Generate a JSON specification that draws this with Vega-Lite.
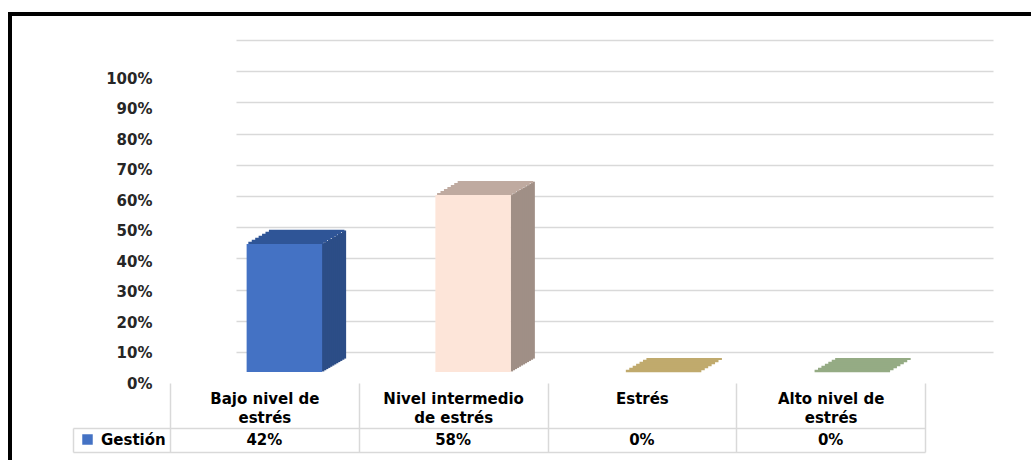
{
  "$schema": "https://vega.github.io/schema/vega-lite/v6.json",
  "width": 1021,
  "height": 446,
  "autosize": {"type": "none"},
  "padding": {"left": 10, "top": 14, "right": 0, "bottom": 0},
  "background": "#ffffff",
  "config": {
    "view": {"stroke": "#000000", "strokeWidth": 4, "strokeDash": [1021, 1467, 446, 10]},
    "font": "DejaVu Sans",
    "tick": {"opacity": 1},
    "bar": {"opacity": 1}
  },
  "data": {
    "values": [
      {"categoria": "Bajo nivel de estrés", "valor": 0.42, "serie": "Gestión"},
      {"categoria": "Nivel intermedio de estrés", "valor": 0.58, "serie": "Gestión"},
      {"categoria": "Estrés", "valor": 0, "serie": "Gestión"},
      {"categoria": "Alto nivel de estrés", "valor": 0, "serie": "Gestión"}
    ]
  },
  "layer": [
    {
      "mark": {"type": "point", "opacity": 0},
      "encoding": {
        "x": {"field": "categoria", "type": "nominal", "sort": null, "scale": {"range": [226, 983], "paddingInner": 0, "paddingOuter": 0}, "axis": null},
        "y": {"field": "valor", "type": "quantitative", "scale": {"domain": [0, 1], "range": [338, 26], "nice": false, "zero": false},
          "axis": {"orient": "left", "values": [0, 0.1, 0.2, 0.3, 0.4, 0.5, 0.6, 0.7, 0.8, 0.9, 1], "labels": false, "ticks": false, "domain": false, "grid": true, "gridColor": "#d9d9d9", "gridWidth": 1.5, "title": null}}
      }
    },
    {
      "mark": {"type": "point", "opacity": 0, "shape": "square", "filled": true},
      "encoding": {
        "x": {"field": "categoria", "type": "nominal", "sort": null, "scale": {"range": [63, 915], "paddingInner": 0, "paddingOuter": 0}, "axis": null},
        "y": {"field": "valor", "type": "quantitative", "scale": {"domain": [0, 1], "range": [438, 414], "nice": false, "zero": false},
          "axis": {"orient": "left", "offset": -63, "values": [0, 1], "labels": false, "ticks": false, "domain": true, "domainColor": "#d9d9d9", "domainWidth": 1.5, "grid": true, "gridColor": "#d9d9d9", "gridWidth": 1.5, "title": null}},
        "color": {"field": "serie", "type": "nominal", "scale": {"range": ["#4472C4"]},
          "legend": {"orient": "none", "legendX": 70, "legendY": 418, "title": null, "padding": 0, "symbolType": "square", "symbolSize": 110, "symbolOpacity": 1, "symbolStrokeWidth": 0, "symbolFillColor": "#4472C4",
            "labelFont": "DejaVu Sans", "labelFontWeight": "bold", "labelFontSize": 15, "labelColor": "#000000", "labelOffset": 6}}
      }
    },
    {
      "encoding": {
        "x": {"field": "categoria", "type": "nominal", "sort": null,
          "scale": {"range": [160, 915], "paddingInner": 0, "paddingOuter": 0},
          "axis": {"orient": "bottom", "offset": -77, "domain": false, "ticks": true, "tickBand": "extent", "tickSize": 69, "tickColor": "#d9d9d9", "tickWidth": 1.5,
            "labelPadding": -61, "labelBaseline": "top", "labelLineHeight": 19, "labelFont": "DejaVu Sans", "labelFontWeight": "bold", "labelFontSize": 15, "labelColor": "#000000", "labelAngle": 0, "labelLimit": 300, "labelOverlap": false, "labelFlush": false,
            "labelExpr": "datum.value == 'Bajo nivel de estrés' ? ['Bajo nivel de', 'estrés'] : datum.value == 'Nivel intermedio de estrés' ? ['Nivel intermedio', 'de estrés'] : datum.value == 'Alto nivel de estrés' ? ['Alto nivel de', 'estrés'] : datum.value",
            "title": null}},
        "y": {"field": "valor", "type": "quantitative",
          "scale": {"domain": [0, 1], "range": [358, 53], "nice": false, "zero": false},
          "axis": {"orient": "left", "offset": -144, "values": [0, 0.1, 0.2, 0.3, 0.4, 0.5, 0.6, 0.7, 0.8, 0.9, 1], "format": ".0%", "labelOffset": 11, "domain": false, "ticks": false, "grid": false, "labelPadding": 2,
            "labelFont": "DejaVu Sans", "labelFontWeight": "bold", "labelFontSize": 15, "labelColor": "#262626", "title": null}}
      },
      "layer": [
        {
          "encoding": {
            "color": {"field": "categoria", "type": "nominal", "sort": null, "scale": {"range": ["#2C4D87", "#A08F86", "#A8925A", "#7C9470"]}, "legend": null}
          },
          "layer": [
            {"mark": {"type": "bar", "width": 2.4, "xOffset": 58.75, "yOffset": -0.58, "opacity": 1}},
            {"mark": {"type": "bar", "width": 2.4, "xOffset": 60.75, "yOffset": -1.75, "opacity": 1}},
            {"mark": {"type": "bar", "width": 2.4, "xOffset": 62.75, "yOffset": -2.92, "opacity": 1}},
            {"mark": {"type": "bar", "width": 2.4, "xOffset": 64.75, "yOffset": -4.08, "opacity": 1}},
            {"mark": {"type": "bar", "width": 2.4, "xOffset": 66.75, "yOffset": -5.25, "opacity": 1}},
            {"mark": {"type": "bar", "width": 2.4, "xOffset": 68.75, "yOffset": -6.42, "opacity": 1}},
            {"mark": {"type": "bar", "width": 2.4, "xOffset": 70.75, "yOffset": -7.58, "opacity": 1}},
            {"mark": {"type": "bar", "width": 2.4, "xOffset": 72.75, "yOffset": -8.75, "opacity": 1}},
            {"mark": {"type": "bar", "width": 2.4, "xOffset": 74.75, "yOffset": -9.92, "opacity": 1}},
            {"mark": {"type": "bar", "width": 2.4, "xOffset": 76.75, "yOffset": -11.08, "opacity": 1}},
            {"mark": {"type": "bar", "width": 2.4, "xOffset": 78.75, "yOffset": -12.25, "opacity": 1}},
            {"mark": {"type": "bar", "width": 2.2, "xOffset": 80.65, "yOffset": -13.42, "opacity": 1}}
          ]
        },
        {
          "encoding": {
            "color": {"field": "categoria", "type": "nominal", "sort": null, "scale": {"range": ["#2F5597", "#BFAAA0", "#C0AA6D", "#95AB84"]}, "legend": null}
          },
          "layer": [
            {"mark": {"type": "tick", "orient": "horizontal", "size": 75.5, "thickness": 2.4, "xOffset": 21.71, "yOffset": -1, "opacity": 1}},
            {"mark": {"type": "tick", "orient": "horizontal", "size": 75.5, "thickness": 2.4, "xOffset": 25.14, "yOffset": -3, "opacity": 1}},
            {"mark": {"type": "tick", "orient": "horizontal", "size": 75.5, "thickness": 2.4, "xOffset": 28.57, "yOffset": -5, "opacity": 1}},
            {"mark": {"type": "tick", "orient": "horizontal", "size": 75.5, "thickness": 2.4, "xOffset": 32.0, "yOffset": -7, "opacity": 1}},
            {"mark": {"type": "tick", "orient": "horizontal", "size": 75.5, "thickness": 2.4, "xOffset": 35.43, "yOffset": -9, "opacity": 1}},
            {"mark": {"type": "tick", "orient": "horizontal", "size": 75.5, "thickness": 2.4, "xOffset": 38.86, "yOffset": -11, "opacity": 1}},
            {"mark": {"type": "tick", "orient": "horizontal", "size": 75.5, "thickness": 2.2, "xOffset": 42.29, "yOffset": -13, "opacity": 1}}
          ]
        },
        {
          "mark": {"type": "bar", "width": {"band": 0.4}, "xOffset": 20, "opacity": 1},
          "encoding": {
            "color": {"field": "categoria", "type": "nominal", "sort": null, "scale": {"range": ["#4472C4", "#FDE5D9", "#C4AC6E", "#98AE86"]}, "legend": null}
          }
        }
      ],
      "resolve": {"scale": {"color": "independent"}}
    },
    {
      "mark": {"type": "text", "font": "DejaVu Sans", "fontWeight": "bold", "fontSize": 15, "baseline": "middle", "align": "center", "color": "#000000"},
      "encoding": {
        "x": {"field": "categoria", "type": "nominal", "sort": null, "scale": {"range": [160, 915], "paddingInner": 0, "paddingOuter": 0}, "axis": null},
        "y": {"datum": 0.5, "type": "quantitative", "scale": {"domain": [0, 1], "range": [438, 414], "nice": false, "zero": false}, "axis": null},
        "text": {"field": "valor", "type": "quantitative", "format": ".0%"}
      }
    }
  ],
  "resolve": {"scale": {"x": "independent", "y": "independent", "color": "independent"}}
}
